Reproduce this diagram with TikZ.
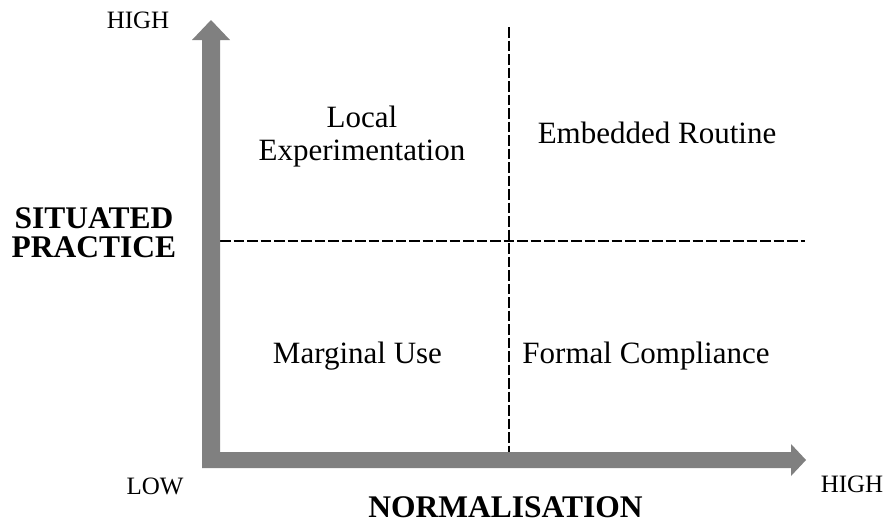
\documentclass[tikz,border=0pt]{standalone}
\usepackage{fontspec}
\setmainfont{Liberation Serif}
\definecolor{axisgray}{RGB}{128,128,128}
\begin{document}
\begin{tikzpicture}[x=1pt,y=-1pt,
  axisarrow/.style={fill=axisgray,draw=none},
  divider/.style={draw=black,line width=2pt,dash pattern=on 10.5pt off 3pt},
  quad/.style={inner sep=0pt,anchor=base,align=center,font=\fontsize{31}{33}\selectfont},
  axislabel/.style={inner sep=0pt,anchor=base,align=center,font=\fontsize{31.5}{29}\selectfont\bfseries},
  endlabel/.style={inner sep=0pt,anchor=base,font=\fontsize{25}{27}\selectfont}]
\useasboundingbox[fill=white] (0,0) rectangle (885,523);
% named coordinates
\coordinate (vtop) at (508.5,27);
\coordinate (vbot) at (508.5,452);
\coordinate (hleft) at (220,241);
\coordinate (hright) at (805,241);
% dashed dividers
\draw[divider] (vtop) -- (vbot);
\draw[divider] (hleft) -- (hright);
% vertical arrow
\fill[axisarrow] (202,468) -- (202,40) -- (192,40) -- (211,20) -- (230,40) -- (220,40) -- (220,452) -- cycle;
% horizontal arrow
\fill[axisarrow] (202,468) -- (202,452) -- (791,452) -- (791,444) -- (806,460) -- (791,476) -- (791,468) -- cycle;
% labels
\node[endlabel] (hy) at (138,28) {HIGH};
\node[endlabel] (lo) at (155,494) {LOW};
\node[endlabel] (hx) at (852,492) {HIGH};
\node[axislabel] (norm) at (505.5,517) {NORMALISATION};
\node[axislabel] (sit) at (94,257) {SITUATED\\PRACTICE};
\node[quad] (le) at (362,160) {Local\\Experimentation};
\node[quad] (er) at (657,143) {Embedded Routine};
\node[quad] (mu) at (357.5,363) {Marginal Use};
\node[quad] (fc) at (646,363) {Formal Compliance};
\end{tikzpicture}
\end{document}
